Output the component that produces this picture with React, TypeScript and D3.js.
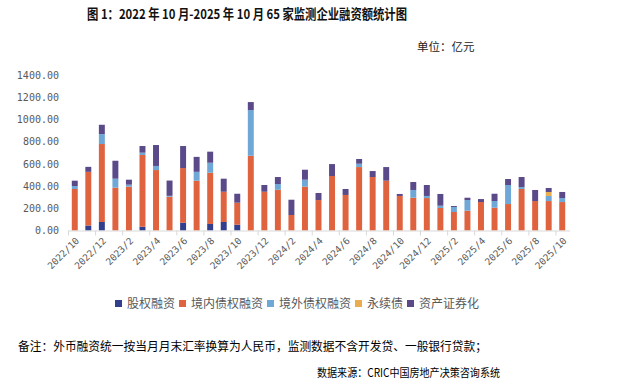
import { useEffect, useRef } from 'react';
import * as d3 from 'd3';

// 2022/10 - 2025/10, monthly, 亿元
const months = [
  '2022/10', '2022/11', '2022/12', '2023/1', '2023/2', '2023/3', '2023/4', '2023/5', '2023/6',
  '2023/7', '2023/8', '2023/9', '2023/10', '2023/11', '2023/12', '2024/1', '2024/2', '2024/3',
  '2024/4', '2024/5', '2024/6', '2024/7', '2024/8', '2024/9', '2024/10', '2024/11', '2024/12',
  '2025/1', '2025/2', '2025/3', '2025/4', '2025/5', '2025/6', '2025/7', '2025/8', '2025/9', '2025/10',
];

const equity = [
  0, 45, 77, 0, 0, 34, 0, 0, 70,
  0, 59, 77, 52, 0, 0, 0, 0, 0,
  0, 0, 0, 0, 0, 0, 0, 0, 0,
  0, 0, 0, 0, 0, 0, 0, 0, 0, 0,
];
const domestic = [
  375, 485, 704, 387, 396, 648, 546, 305, 494,
  450, 463, 273, 199, 675, 350, 368, 140, 396,
  275, 492, 321, 573, 483, 450, 312, 296, 293,
  203, 167, 179, 257, 206, 239, 375, 266, 266, 257,
];
const overseas = [
  27, 0, 90, 81, 18, 21, 37, 8, 0,
  80, 90, 0, 0, 413, 0, 52, 0, 63,
  0, 0, 0, 30, 0, 0, 0, 70, 19,
  21, 45, 96, 0, 60, 172, 18, 0, 46, 36,
];
const perpetual = [
  0, 0, 0, 0, 0, 0, 0, 0, 0,
  0, 0, 0, 0, 0, 0, 0, 0, 0,
  0, 0, 0, 0, 0, 0, 0, 0, 0,
  0, 0, 0, 0, 0, 0, 0, 0, 36, 0,
];
const abs = [
  48, 45, 84, 162, 45, 60, 189, 138, 199,
  135, 100, 118, 81, 72, 61, 63, 138, 90,
  64, 108, 54, 43, 54, 123, 18, 72, 99,
  106, 9, 21, 27, 66, 54, 90, 100, 36, 55,
];

const seriesNames = ['股权融资', '境内债权融资', '境外债权融资', '永续债', '资产证券化'];
const seriesKeys = ['equity', 'domestic', 'overseas', 'perpetual', 'abs'];
const colors = ['#323f8c', '#e0633f', '#6fa8d6', '#e8ad4f', '#5b4a89'];
const yTicks = [0, 200, 400, 600, 800, 1000, 1200, 1400];

const W = 626;
const H = 388;

export default function App() {
  const svgRef = useRef<SVGSVGElement>(null);

  useEffect(() => {
    document.body.style.margin = '0';
    const svg = d3.select(svgRef.current);
    svg.selectAll('*').remove();

    const margin = { left: 68, right: 57, top: 75.5, bottom: 157.5 };
    const cols = [equity, domestic, overseas, perpetual, abs];
    const rows = months.map((m, i) => {
      const r: any = { month: m };
      seriesKeys.forEach((k, j) => (r[k] = cols[j][i]));
      return r;
    });

    const x = d3.scaleBand().domain(months).range([margin.left, W - margin.right]).paddingInner(0.56).paddingOuter(0.28);
    const y = d3.scaleLinear().domain([0, 1400]).range([H - margin.bottom, margin.top]);
    const stacked = d3.stack().keys(seriesKeys)(rows);

    svg.append('rect').attr('width', W).attr('height', H).attr('fill', '#fff');

    // title
    svg.append('text')
      .attr('x', 87).attr('y', 19)
      .attr('font-family', '"Noto Sans CJK SC", sans-serif')
      .attr('font-weight', 'bold').attr('font-size', 13.5)
      .attr('textLength', 320).attr('lengthAdjust', 'spacingAndGlyphs')
      .attr('fill', '#111')
      .text('图 1：2022 年 10 月-2025 年 10 月 65 家监测企业融资额统计图');

    svg.append('text')
      .attr('x', 417).attr('y', 51)
      .attr('font-family', '"Noto Sans CJK SC", sans-serif')
      .attr('font-size', 11.5).attr('fill', '#222')
      .text('单位：亿元');

    // bars
    svg.append('g').selectAll('g')
      .data(stacked).join('g')
      .attr('fill', (_, i) => colors[i])
      .selectAll('rect')
      .data(d => d).join('rect')
      .attr('x', d => x(d.data.month as string)!)
      .attr('width', x.bandwidth())
      .attr('y', d => y(d[1]))
      .attr('height', d => y(d[0]) - y(d[1]));

    // y axis labels
    svg.append('g').selectAll('text')
      .data(yTicks).join('text')
      .attr('x', 59).attr('y', d => y(d)).attr('dy', '0.35em')
      .attr('text-anchor', 'end')
      .attr('font-family', '"DejaVu Sans Mono", monospace')
      .attr('font-size', 10).attr('fill', '#595959')
      .text(d => d.toFixed(2));

    // x axis
    const step = x.step();
    const x0 = margin.left;
    const base = y(0);
    svg.append('line')
      .attr('x1', x0).attr('x2', W - margin.right + 1)
      .attr('y1', base + 0.5).attr('y2', base + 0.5)
      .attr('stroke', '#d9d9d9');
    svg.append('g').selectAll('line')
      .data(d3.range(0, months.length, 2)).join('line')
      .attr('x1', i => x0 + i * step + 0.5).attr('x2', i => x0 + i * step + 0.5)
      .attr('y1', base).attr('y2', base + 5)
      .attr('stroke', '#d9d9d9');

    const labelMonths = months.filter((_, i) => i % 2 === 0);
    svg.append('g').selectAll('text')
      .data(labelMonths).join('text')
      .attr('transform', d => `translate(${x(d)! + x.bandwidth() / 2 + 5},${base + 11}) rotate(-45)`)
      .attr('text-anchor', 'end')
      .attr('font-family', '"DejaVu Sans Mono", monospace')
      .attr('font-size', 9.5).attr('fill', '#595959')
      .text(d => d);

    // legend
    const legend = svg.append('g').attr('transform', 'translate(115,304)');
    let lx = 0;
    seriesNames.forEach((name, i) => {
      legend.append('rect').attr('x', lx).attr('y', -4).attr('width', 7).attr('height', 7).attr('fill', colors[i]);
      legend.append('text')
        .attr('x', lx + 12).attr('y', 0).attr('dy', '0.35em')
        .attr('font-family', '"Noto Sans CJK SC", sans-serif')
        .attr('font-size', 12).attr('fill', '#595959')
        .text(name);
      lx += 12 + name.length * 12 + 4;
    });

    svg.append('text')
      .attr('x', 18).attr('y', 351)
      .attr('font-family', '"Noto Sans CJK SC", sans-serif')
      .attr('font-size', 12).attr('fill', '#000')
      .attr('textLength', 469).attr('lengthAdjust', 'spacingAndGlyphs')
      .text('备注：外币融资统一按当月月末汇率换算为人民币，监测数据不含开发贷、一般银行贷款；');

    svg.append('text')
      .attr('x', 317).attr('y', 377)
      .attr('font-family', '"Noto Sans CJK SC", sans-serif')
      .attr('font-size', 11.5).attr('fill', '#000')
      .attr('textLength', 183).attr('lengthAdjust', 'spacingAndGlyphs')
      .text('数据来源：CRIC中国房地产决策咨询系统');
  }, []);

  return (
    <svg ref={svgRef} width={W} height={H} style={{ display: 'block', position: 'absolute', left: 0, top: 0 }} />
  );
}
